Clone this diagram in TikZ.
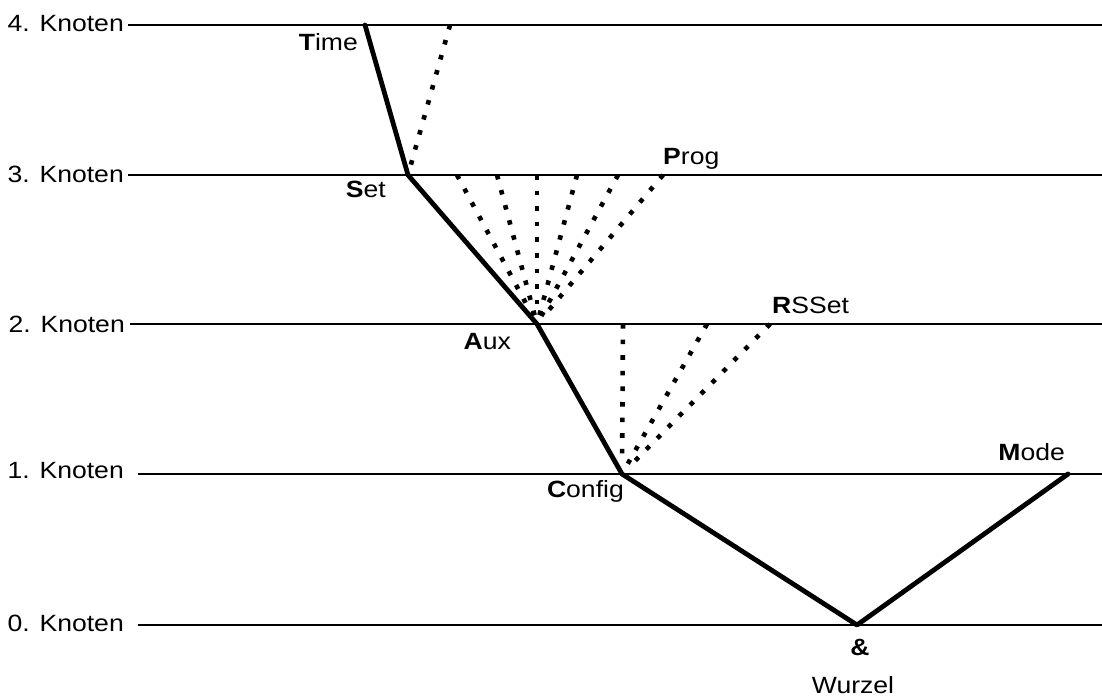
\documentclass[tikz,border=0pt]{standalone}
\usepackage{fontspec}
\setmainfont{Liberation Sans}[FakeStretch=1.13]
\begin{document}
\begin{tikzpicture}[x=1pt,y=-1pt,
  level/.style={line width=2.4pt},
  path/.style={line width=4.8pt,line join=round,line cap=round},
  alt/.style={line width=4.6pt,dash pattern=on 4.6pt off 11pt,shorten >=9pt},
  lbl/.style={font=\fontsize{23.5}{26}\selectfont,inner sep=0pt},
]
\useasboundingbox (0,0) rectangle (1102,696);
% level labels
\node[lbl,anchor=base east] (k4) at (124,31) {4. Knoten};
\node[lbl,anchor=base east] (k3) at (124,182) {3. Knoten};
\node[lbl,anchor=base east] (k2) at (125,332) {2. Knoten};
\node[lbl,anchor=base east] (k1) at (124,478) {1. Knoten};
\node[lbl,anchor=base east] (k0) at (124,631) {0. Knoten};
% level line ends
\coordinate (e4) at (1102,25);
\coordinate (e3) at (1102,175);
\coordinate (e2) at (1102,324);
\coordinate (e1) at (1102,474);
\coordinate (e0) at (1102,625);
\coordinate (s4) at (128,25);
\coordinate (s3) at (128,175);
\coordinate (s2) at (130,324);
\coordinate (s1) at (138,474);
\coordinate (s0) at (138,625);
\draw[level] (s4) -- (e4);
\draw[level] (s3) -- (e3);
\draw[level] (s2) -- (e2);
\draw[level] (s1) -- (e1);
\draw[level] (s0) -- (e0);
% path points
\coordinate (time) at (365,25);
\coordinate (set) at (408,175);
\coordinate (aux) at (537,324);
\coordinate (config) at (622,474);
\coordinate (wurzel) at (857,625);
\coordinate (mode) at (1068,474);
% alternative ends
\coordinate (a4) at (450,25);
\coordinate (b1) at (457,175);
\coordinate (b2) at (497,175);
\coordinate (b3) at (537,175);
\coordinate (b4) at (577,175);
\coordinate (b5) at (618,175);
\coordinate (b6) at (663,175);
\coordinate (c1) at (623,324);
\coordinate (c2) at (707,324);
\coordinate (c3) at (770,324);
% dotted alternatives
\draw[alt] (a4) -- (set);
\foreach \p in {b1,b2,b3,b4,b5,b6} \draw[alt] (\p) -- (aux);
\foreach \p in {c1,c2,c3} \draw[alt,shorten >=11pt] (\p) -- (config);
% main path
\draw[path] (time) -- (set) -- (aux) -- (config) -- (wurzel) -- (mode);
% node labels
\node[lbl,anchor=base east] (ltime) at (358,50) {\textbf{T}ime};
\node[lbl,anchor=base east] (lset) at (386,197) {\textbf{S}et};
\node[lbl,anchor=base west] (lprog) at (663,164) {\textbf{P}rog};
\node[lbl,anchor=base east] (laux) at (511,349) {\textbf{A}ux};
\node[lbl,anchor=base west] (lrsset) at (772,313) {\textbf{R}SSet};
\node[lbl,anchor=base east] (lconfig) at (624,497) {\textbf{C}onfig};
\node[lbl,anchor=base east] (lmode) at (1065,460) {\textbf{M}ode};
\node[lbl,anchor=base] (lamp) at (860,655) {\textbf{\&}};
\node[lbl,anchor=base] (lwurzel) at (853,693) {Wurzel};
\end{tikzpicture}
\end{document}
